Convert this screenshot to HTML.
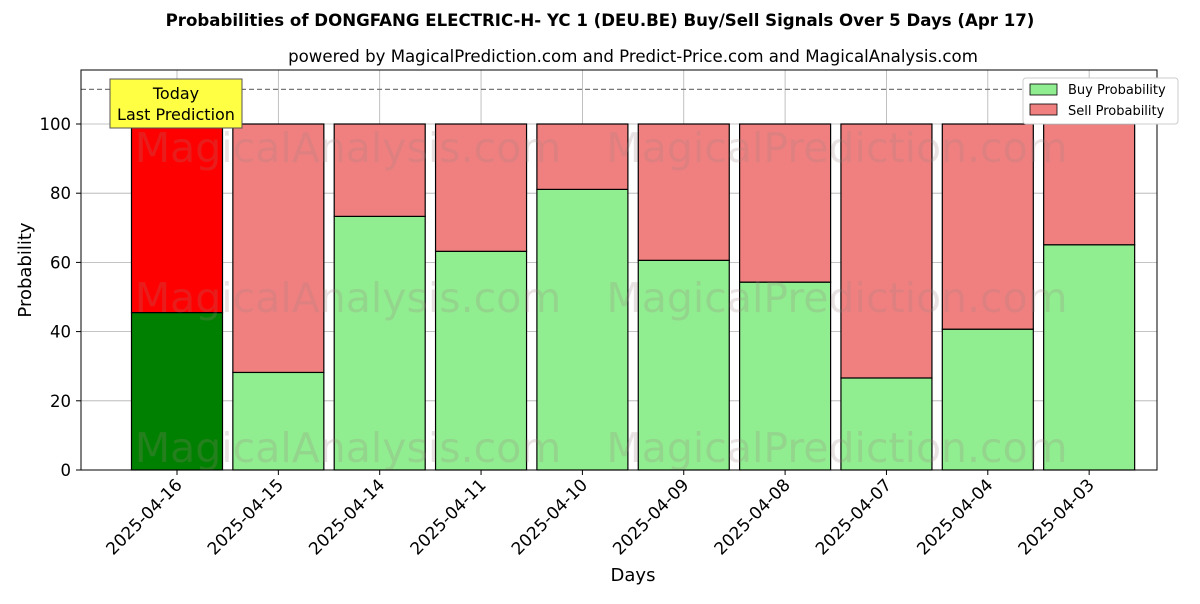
<!DOCTYPE html>
<html><head><meta charset="utf-8"><style>
body{margin:0;background:#fff;font-family:"DejaVu Sans","Liberation Sans",sans-serif}
svg text{font-family:"DejaVu Sans","Liberation Sans",sans-serif}
</style></head><body>
<svg id="c" width="1200" height="600" xmlns="http://www.w3.org/2000/svg">
<rect width="1200" height="600" fill="#fff"/>
<text x="600" y="26" text-anchor="middle" font-size="16.6" font-weight="bold">Probabilities of DONGFANG ELECTRIC-H- YC 1 (DEU.BE) Buy/Sell Signals Over 5 Days (Apr 17)</text>
<text x="633" y="62" text-anchor="middle" font-size="16.6">powered by MagicalPrediction.com and Predict-Price.com and MagicalAnalysis.com</text>
<g id="grid"></g>
<g id="bars"></g>
<g id="wm" font-size="41" fill="#a08080" opacity="0.22">
<text x="348" y="162" text-anchor="middle">MagicalAnalysis.com</text>
<text x="837" y="162" text-anchor="middle">MagicalPrediction.com</text>
<text x="348" y="312" text-anchor="middle">MagicalAnalysis.com</text>
<text x="837" y="312" text-anchor="middle">MagicalPrediction.com</text>
<text x="348" y="462" text-anchor="middle">MagicalAnalysis.com</text>
<text x="837" y="462" text-anchor="middle">MagicalPrediction.com</text>
</g>
<line id="ref" x1="81" x2="1157" stroke="#777" stroke-dasharray="5,3" stroke-width="1.2"/>
<g id="axes"></g>
<rect x="81" y="70" width="1076" height="400" fill="none" stroke="#000" stroke-width="1"/>
<g>
<rect x="110" y="79" width="132" height="49" fill="#ffff44" stroke="#555" stroke-width="1"/>
<text x="176" y="99" text-anchor="middle" font-size="16">Today</text>
<text x="176" y="120" text-anchor="middle" font-size="16">Last Prediction</text>
</g>
<g>
<rect x="1023" y="78" width="155" height="46" fill="#fff" stroke="#ccc" rx="3"/>
<rect x="1030" y="84" width="27" height="11" fill="#90ee90" stroke="#000" stroke-width="0.8"/>
<text x="1068" y="94" font-size="13">Buy Probability</text>
<rect x="1030" y="104" width="27" height="11" fill="#f08080" stroke="#000" stroke-width="0.8"/>
<text x="1068" y="115" font-size="13">Sell Probability</text>
</g>
<text x="633" y="581" text-anchor="middle" font-size="18">Days</text>
<text x="31" y="270" text-anchor="middle" font-size="18" transform="rotate(-90 31 270)">Probability</text>
</svg>
<script>
const categories=["2025-04-16","2025-04-15","2025-04-14","2025-04-11","2025-04-10","2025-04-09","2025-04-08","2025-04-07","2025-04-04","2025-04-03"];
const buyValues=[45.5,28.2,73.3,63.2,81.1,60.6,54.3,26.6,40.7,65.1];
const yTicks=[0,20,40,60,80,100];
const refLevel=110;
const NS="http://www.w3.org/2000/svg";
const y=v=>470-v*3.46;
const x=i=>177+i*101.35;
const bw=91;
function mk(t,a,p){const e=document.createElementNS(NS,t);for(const k in a)e.setAttribute(k,a[k]);p.appendChild(e);return e;}
const grid=document.getElementById('grid'),bars=document.getElementById('bars'),axes=document.getElementById('axes');
yTicks.forEach(v=>{
const g=mk('line',{x1:81,x2:1157,y1:y(v),y2:y(v),stroke:'#b0b0b0','stroke-width':0.8},grid);


mk('line',{x1:76,x2:81,y1:y(v),y2:y(v),stroke:'#000'},axes);
const t=mk('text',{x:71,y:y(v)+6,'text-anchor':'end','font-size':16.5},axes);t.textContent=v;


});
categories.forEach((c,i)=>{
const gl=mk('line',{x1:x(i),x2:x(i),y1:70,y2:470,stroke:'#b0b0b0','stroke-width':0.8},grid);


const b=buyValues[i];
const today=i===0;
const r1=mk('rect',{x:x(i)-bw/2,y:y(b),width:bw,height:y(0)-y(b),fill:today?'#008000':'#90ee90',stroke:'#000','stroke-width':1.2},bars);


const r2=mk('rect',{x:x(i)-bw/2,y:y(100),width:bw,height:y(b)-y(100),fill:today?'#ff0000':'#f08080',stroke:'#000','stroke-width':1.2},bars);


mk('line',{x1:x(i),x2:x(i),y1:470,y2:475,stroke:'#000'},axes);
const t=mk('text',{x:x(i)+6,y:486,'text-anchor':'end','font-size':17,transform:`rotate(-45 ${x(i)+6} 486)`},axes);
t.textContent=c;


});
const ref=document.getElementById('ref');ref.setAttribute('y1',y(refLevel));ref.setAttribute('y2',y(refLevel));
</script>
</body></html>
